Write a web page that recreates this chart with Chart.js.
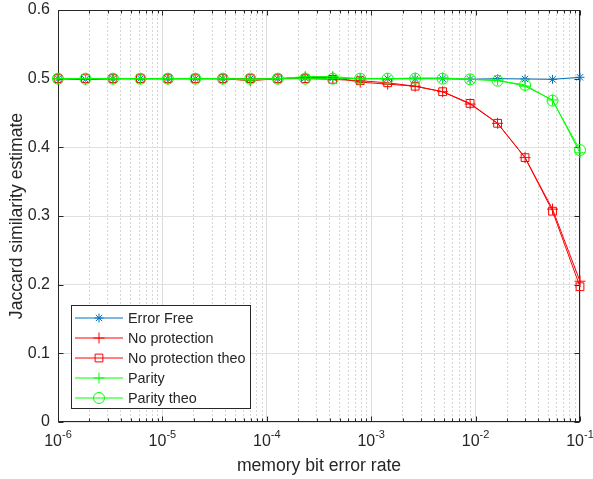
<!DOCTYPE html>
<html>
<head>
<meta charset="utf-8">
<script src="https://cdn.jsdelivr.net/npm/chart.js@4.4.1/dist/chart.umd.min.js"></script>
<style>
  body { margin: 0; background: #fff; }
  canvas { display: block; }
</style>
</head>
<body>
<canvas id="chart" width="593" height="479"></canvas>
<script>
// DATA
let ber = [1e-6, 1.833e-6, 3.360e-6, 6.158e-6, 1.129e-5, 2.069e-5, 3.793e-5, 6.952e-5, 1.274e-4, 2.336e-4,
           4.281e-4, 7.848e-4, 1.438e-3, 2.637e-3, 4.833e-3, 8.859e-3, 1.624e-2, 2.976e-2, 5.456e-2, 1e-1];

let errorFree   = [0.500, 0.499, 0.500, 0.500, 0.500, 0.500, 0.500, 0.500, 0.500, 0.501,
                   0.501, 0.500, 0.500, 0.500, 0.500, 0.499, 0.500, 0.4995, 0.499, 0.502];
let noProt      = [0.500, 0.499, 0.500, 0.500, 0.500, 0.500, 0.500, 0.497, 0.500, 0.502,
                   0.502, 0.495, 0.492, 0.489, 0.481, 0.463, 0.435, 0.385, 0.310, 0.205];
let noProtTheo  = [0.500, 0.500, 0.500, 0.500, 0.500, 0.500, 0.500, 0.500, 0.500, 0.500,
                   0.499, 0.497, 0.494, 0.489, 0.481, 0.464, 0.435, 0.385, 0.307, 0.197];
let parity      = [0.500, 0.500, 0.500, 0.500, 0.500, 0.500, 0.500, 0.498, 0.500, 0.503,
                   0.503, 0.500, 0.500, 0.501, 0.501, 0.499, 0.498, 0.489, 0.469, 0.392];
let parityTheo  = [0.500, 0.500, 0.500, 0.500, 0.500, 0.500, 0.500, 0.500, 0.500, 0.500,
                   0.500, 0.500, 0.500, 0.500, 0.500, 0.499, 0.497, 0.491, 0.468, 0.396];

let seriesNames = ["Error Free", "No protection", "No protection theo", "Parity", "Parity theo"];
let xDecades = [1e-6, 1e-5, 1e-4, 1e-3, 1e-2, 1e-1];
let xExponents = ["-6", "-5", "-4", "-3", "-2", "-1"];
let yTicks = [0, 0.1, 0.2, 0.3, 0.4, 0.5, 0.6];

const FONT = "'Liberation Sans', Arial, Helvetica, sans-serif";
const INK = "#262626";

Chart.defaults.font.family = FONT;
Chart.defaults.color = INK;

// ticks for the log axis: 1..9 x each decade
let xTickList = [];
xDecades.forEach((d, i) => {
  if (i === xDecades.length - 1) { xTickList.push({ value: d, major: true }); return; }
  for (let k = 1; k <= 9; k++) xTickList.push({ value: k * d, major: k === 1 });
});

function series(i, data, color, style, radius, order) {
  return {
    label: seriesNames[i],
    data: ber.map((x, j) => ({ x: x, y: data[j] })),
    borderColor: color,
    backgroundColor: "rgba(0,0,0,0)",
    borderWidth: 1,
    pointStyle: style,
    pointRadius: radius,
    pointHoverRadius: radius,
    pointBorderColor: color,
    pointBackgroundColor: "rgba(0,0,0,0)",
    pointBorderWidth: 1,
    tension: 0,
    clip: false,
    order: order
  };
}

// AXES BOX + TICKS + LABELS + LEGEND
let matlabLook = {
  id: "matlabLook",
  beforeDatasetsDraw(chart) {
    let ctx = chart.ctx;
    let { left, right, top, bottom } = chart.chartArea;
    let xs = chart.scales.x, ys = chart.scales.y;
    ctx.save();
    ctx.strokeStyle = INK;
    ctx.lineWidth = 1;
    let L = Math.round(left) + 0.5, R = Math.round(right) - 0.5;
    let T = Math.round(top) + 0.5, B = Math.round(bottom) - 0.5;
    ctx.strokeRect(L, T, R - L, B - T);
    ctx.beginPath();
    xs.ticks.forEach(t => {
      let px = Math.round(xs.getPixelForValue(t.value)) + 0.5;
      let len = t.major ? 5 : 3;
      ctx.moveTo(px, B); ctx.lineTo(px, B - len);
      ctx.moveTo(px, T); ctx.lineTo(px, T + len);
    });
    yTicks.forEach(v => {
      let py = Math.round(ys.getPixelForValue(v)) + 0.5;
      ctx.moveTo(L, py); ctx.lineTo(L + 5, py);
      ctx.moveTo(R, py); ctx.lineTo(R - 5, py);
    });
    ctx.stroke();
    ctx.restore();
  },
  afterDraw(chart) {
    let ctx = chart.ctx;
    let { left, bottom } = chart.chartArea;
    let xs = chart.scales.x;
    ctx.save();
    ctx.fillStyle = INK;
    ctx.textBaseline = "middle";
    ctx.textAlign = "left";
    // x tick labels 10^n
    xDecades.forEach((d, i) => {
      let px = xs.getPixelForValue(d);
      ctx.font = "16px " + FONT;
      let wBase = ctx.measureText("10").width;
      ctx.font = "11px " + FONT;
      let wExp = ctx.measureText(xExponents[i]).width;
      let x0 = px - (wBase + wExp) / 2;
      ctx.font = "16px " + FONT;
      ctx.fillText("10", x0, bottom + 20);
      ctx.font = "11px " + FONT;
      ctx.fillText(xExponents[i], x0 + wBase, bottom + 13);
    });

    // legend box
    let bx = left + 13, by = bottom - 117, bw = 179, bh = 103;
    ctx.fillStyle = "#fff";
    ctx.fillRect(bx, by, bw, bh);
    ctx.strokeStyle = INK;
    ctx.lineWidth = 1;
    ctx.strokeRect(Math.round(bx) + 0.5, Math.round(by) + 0.5, bw, bh);
    chart.data.datasets.forEach((ds, i) => {
      let y = by + 13 + 20 * i;
      ctx.strokeStyle = ds.borderColor;
      ctx.lineWidth = 1;
      ctx.beginPath();
      ctx.moveTo(bx + 4, y); ctx.lineTo(bx + 52, y);
      ctx.stroke();
      ctx.fillStyle = "rgba(0,0,0,0)";
      Chart.helpers.drawPoint(ctx, { pointStyle: ds.pointStyle, radius: ds.pointRadius, borderWidth: 1, rotation: 0 }, bx + 28, y);
      ctx.fillStyle = INK;
      ctx.font = "14.4px " + FONT;
      ctx.fillText(ds.label, bx + 57, y + 1);
    });
    ctx.restore();
  }
};

let ctx = document.getElementById("chart").getContext("2d");
let chart = new Chart(ctx, {
  type: "line",
  data: {
    datasets: [
      series(0, errorFree, "#0072BD", "star", 4.5, 5),
      series(1, noProt, "#FF0000", "cross", 5.5, 4),
      series(2, noProtTheo, "#FF0000", "rect", 5.5, 3),
      series(3, parity, "#00FF00", "cross", 5.5, 2),
      series(4, parityTheo, "#00FF00", "circle", 5.5, 1)
    ]
  },
  options: {
    responsive: false,
    animation: false,
    layout: { padding: { top: 10, right: 13, left: 0, bottom: 0 } },
    plugins: { legend: { display: false }, tooltip: { enabled: false } },
    scales: {
      x: {
        type: "logarithmic",
        min: 1e-6,
        max: 0.1,
        afterBuildTicks: s => { s.ticks = xTickList.map(t => ({ value: t.value, major: t.major })); },
        afterFit: s => { s.height = 57; s.paddingLeft = 0; s.paddingRight = 0; },
        ticks: {
          autoSkip: false,
          maxRotation: 0,
          color: "rgba(0,0,0,0)",
          font: { size: 16 },
          callback: (v, i, t) => t[i].major ? "10" : ""
        },
        grid: {
          drawTicks: false,
          lineWidth: 1,
          color: c => (c.tick && c.tick.major) ? "#dcdcdc" : "#d6d6d6"
        },
        border: {
          display: false,
          dash: c => (c.tick && !c.tick.major) ? [2, 2] : []
        },
        title: {
          display: true,
          text: "memory bit error rate",
          font: { size: 17.6 },
          padding: { top: 0, bottom: 2.5 }
        }
      },
      y: {
        min: 0,
        max: 0.6,
        afterBuildTicks: s => { s.ticks = yTicks.map(v => ({ value: v })); },
        afterFit: s => { s.width = 58; s.paddingTop = 0; s.paddingBottom = 0; },
        ticks: {
          padding: 8,
          font: { size: 16 },
          callback: v => v === 0 ? "0" : v.toFixed(1)
        },
        grid: { drawTicks: false, color: "#e0e0e0", lineWidth: 1 },
        border: { display: false },
        title: {
          display: true,
          text: "Jaccard similarity estimate",
          font: { size: 17.6 },
          padding: { top: 6.5, bottom: 0 }
        }
      }
    }
  },
  plugins: [matlabLook]
});
</script>
</body>
</html>
